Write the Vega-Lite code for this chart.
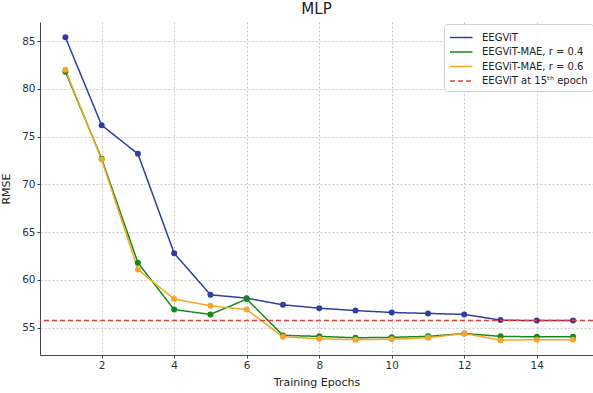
{
  "$schema": "https://vega.github.io/schema/vega-lite/v6.json",
  "width": 553,
  "height": 333,
  "autosize": "none",
  "padding": {"left": 40, "top": 22, "right": 0, "bottom": 38},
  "background": "white",
  "title": {"text": "MLP", "fontSize": 15, "fontWeight": "normal", "font": "DejaVu Sans", "color": "#222", "offset": 5},
  "config": {
    "view": {"stroke": null},
    "font": "DejaVu Sans",
    "axis": {
      "labelFont": "DejaVu Sans", "labelFontSize": 10.5, "labelColor": "#333",
      "titleFont": "DejaVu Sans", "titleFontSize": 11, "titleFontWeight": "normal", "titleColor": "#222",
      "domainColor": "#444", "domainWidth": 1, "tickColor": "#444", "tickSize": 3,
      "gridColor": "#bdbdbd", "gridDash": [2, 2], "gridWidth": 0.8
    }
  },
  "datasets": {
    "runs": [
      {"epoch": 1, "rmse": 85.4, "series": "EEGViT"},
      {"epoch": 2, "rmse": 76.2, "series": "EEGViT"},
      {"epoch": 3, "rmse": 73.2, "series": "EEGViT"},
      {"epoch": 4, "rmse": 62.8, "series": "EEGViT"},
      {"epoch": 5, "rmse": 58.45, "series": "EEGViT"},
      {"epoch": 6, "rmse": 58.1, "series": "EEGViT"},
      {"epoch": 7, "rmse": 57.4, "series": "EEGViT"},
      {"epoch": 8, "rmse": 57.05, "series": "EEGViT"},
      {"epoch": 9, "rmse": 56.8, "series": "EEGViT"},
      {"epoch": 10, "rmse": 56.6, "series": "EEGViT"},
      {"epoch": 11, "rmse": 56.5, "series": "EEGViT"},
      {"epoch": 12, "rmse": 56.4, "series": "EEGViT"},
      {"epoch": 13, "rmse": 55.8, "series": "EEGViT"},
      {"epoch": 14, "rmse": 55.75, "series": "EEGViT"},
      {"epoch": 15, "rmse": 55.75, "series": "EEGViT"},
      {"epoch": 1, "rmse": 81.8, "series": "EEGViT-MAE, r = 0.4"},
      {"epoch": 2, "rmse": 72.7, "series": "EEGViT-MAE, r = 0.4"},
      {"epoch": 3, "rmse": 61.8, "series": "EEGViT-MAE, r = 0.4"},
      {"epoch": 4, "rmse": 56.9, "series": "EEGViT-MAE, r = 0.4"},
      {"epoch": 5, "rmse": 56.4, "series": "EEGViT-MAE, r = 0.4"},
      {"epoch": 6, "rmse": 58.0, "series": "EEGViT-MAE, r = 0.4"},
      {"epoch": 7, "rmse": 54.2, "series": "EEGViT-MAE, r = 0.4"},
      {"epoch": 8, "rmse": 54.1, "series": "EEGViT-MAE, r = 0.4"},
      {"epoch": 9, "rmse": 53.95, "series": "EEGViT-MAE, r = 0.4"},
      {"epoch": 10, "rmse": 54.0, "series": "EEGViT-MAE, r = 0.4"},
      {"epoch": 11, "rmse": 54.1, "series": "EEGViT-MAE, r = 0.4"},
      {"epoch": 12, "rmse": 54.4, "series": "EEGViT-MAE, r = 0.4"},
      {"epoch": 13, "rmse": 54.1, "series": "EEGViT-MAE, r = 0.4"},
      {"epoch": 14, "rmse": 54.05, "series": "EEGViT-MAE, r = 0.4"},
      {"epoch": 15, "rmse": 54.05, "series": "EEGViT-MAE, r = 0.4"},
      {"epoch": 1, "rmse": 82.0, "series": "EEGViT-MAE, r = 0.6"},
      {"epoch": 2, "rmse": 72.6, "series": "EEGViT-MAE, r = 0.6"},
      {"epoch": 3, "rmse": 61.1, "series": "EEGViT-MAE, r = 0.6"},
      {"epoch": 4, "rmse": 58.0, "series": "EEGViT-MAE, r = 0.6"},
      {"epoch": 5, "rmse": 57.3, "series": "EEGViT-MAE, r = 0.6"},
      {"epoch": 6, "rmse": 56.9, "series": "EEGViT-MAE, r = 0.6"},
      {"epoch": 7, "rmse": 54.05, "series": "EEGViT-MAE, r = 0.6"},
      {"epoch": 8, "rmse": 53.85, "series": "EEGViT-MAE, r = 0.6"},
      {"epoch": 9, "rmse": 53.75, "series": "EEGViT-MAE, r = 0.6"},
      {"epoch": 10, "rmse": 53.8, "series": "EEGViT-MAE, r = 0.6"},
      {"epoch": 11, "rmse": 53.95, "series": "EEGViT-MAE, r = 0.6"},
      {"epoch": 12, "rmse": 54.4, "series": "EEGViT-MAE, r = 0.6"},
      {"epoch": 13, "rmse": 53.7, "series": "EEGViT-MAE, r = 0.6"},
      {"epoch": 14, "rmse": 53.75, "series": "EEGViT-MAE, r = 0.6"},
      {"epoch": 15, "rmse": 53.75, "series": "EEGViT-MAE, r = 0.6"}
    ],
    "baseline": [
      {"rmse": 55.75, "series": "EEGViT at 15ᵗʰ epoch"}
    ]
  },
  "encoding": {
    "color": {
      "field": "series", "type": "nominal", "title": null,
      "scale": {
        "domain": ["EEGViT", "EEGViT-MAE, r = 0.4", "EEGViT-MAE, r = 0.6", "EEGViT at 15ᵗʰ epoch"],
        "range": ["#2f3f9f", "#168a16", "#f5a62a", "#e3403a"]
      },
      "legend": {
        "orient": "none", "legendX": 404, "legendY": 2,
        "symbolType": "M-1,0H2", "symbolSize": 225, "symbolStrokeWidth": 1.5,
        "labelFont": "DejaVu Sans", "labelFontSize": 10, "labelColor": "#222", "labelOffset": 16,
        "rowPadding": 0.5, "padding": 5,
        "strokeColor": "#d0d0d0", "fillColor": "rgba(255,255,255,0.85)", "cornerRadius": 3
      }
    }
  },
  "layer": [
    {
      "data": {"name": "runs"},
      "mark": {"type": "line", "strokeWidth": 1.5},
      "encoding": {
        "x": {"field": "epoch", "type": "quantitative", "title": "Training Epochs",
              "scale": {"domain": [0.3, 15.55], "nice": false, "zero": false},
              "axis": {"values": [2, 4, 6, 8, 10, 12, 14], "titlePadding": 6}},
        "y": {"field": "rmse", "type": "quantitative", "title": "RMSE",
              "scale": {"domain": [52.15, 87], "nice": false, "zero": false},
              "axis": {"values": [55, 60, 65, 70, 75, 80, 85], "titlePadding": 10}},
        "strokeDash": {"field": "series", "type": "nominal", "title": null,
          "scale": {
            "domain": ["EEGViT", "EEGViT-MAE, r = 0.4", "EEGViT-MAE, r = 0.6", "EEGViT at 15ᵗʰ epoch"],
            "range": [[1, 0], [1, 0], [1, 0], [5, 3]]
          }}
      }
    },
    {
      "data": {"name": "runs"},
      "mark": {"type": "point", "filled": true, "size": 36, "opacity": 1},
      "encoding": {
        "x": {"field": "epoch", "type": "quantitative"},
        "y": {"field": "rmse", "type": "quantitative"}
      }
    },
    {
      "data": {"name": "baseline"},
      "mark": {"type": "rule", "strokeWidth": 1.5, "strokeDash": [5, 3]},
      "encoding": {
        "y": {"field": "rmse", "type": "quantitative"}
      }
    }
  ]
}
